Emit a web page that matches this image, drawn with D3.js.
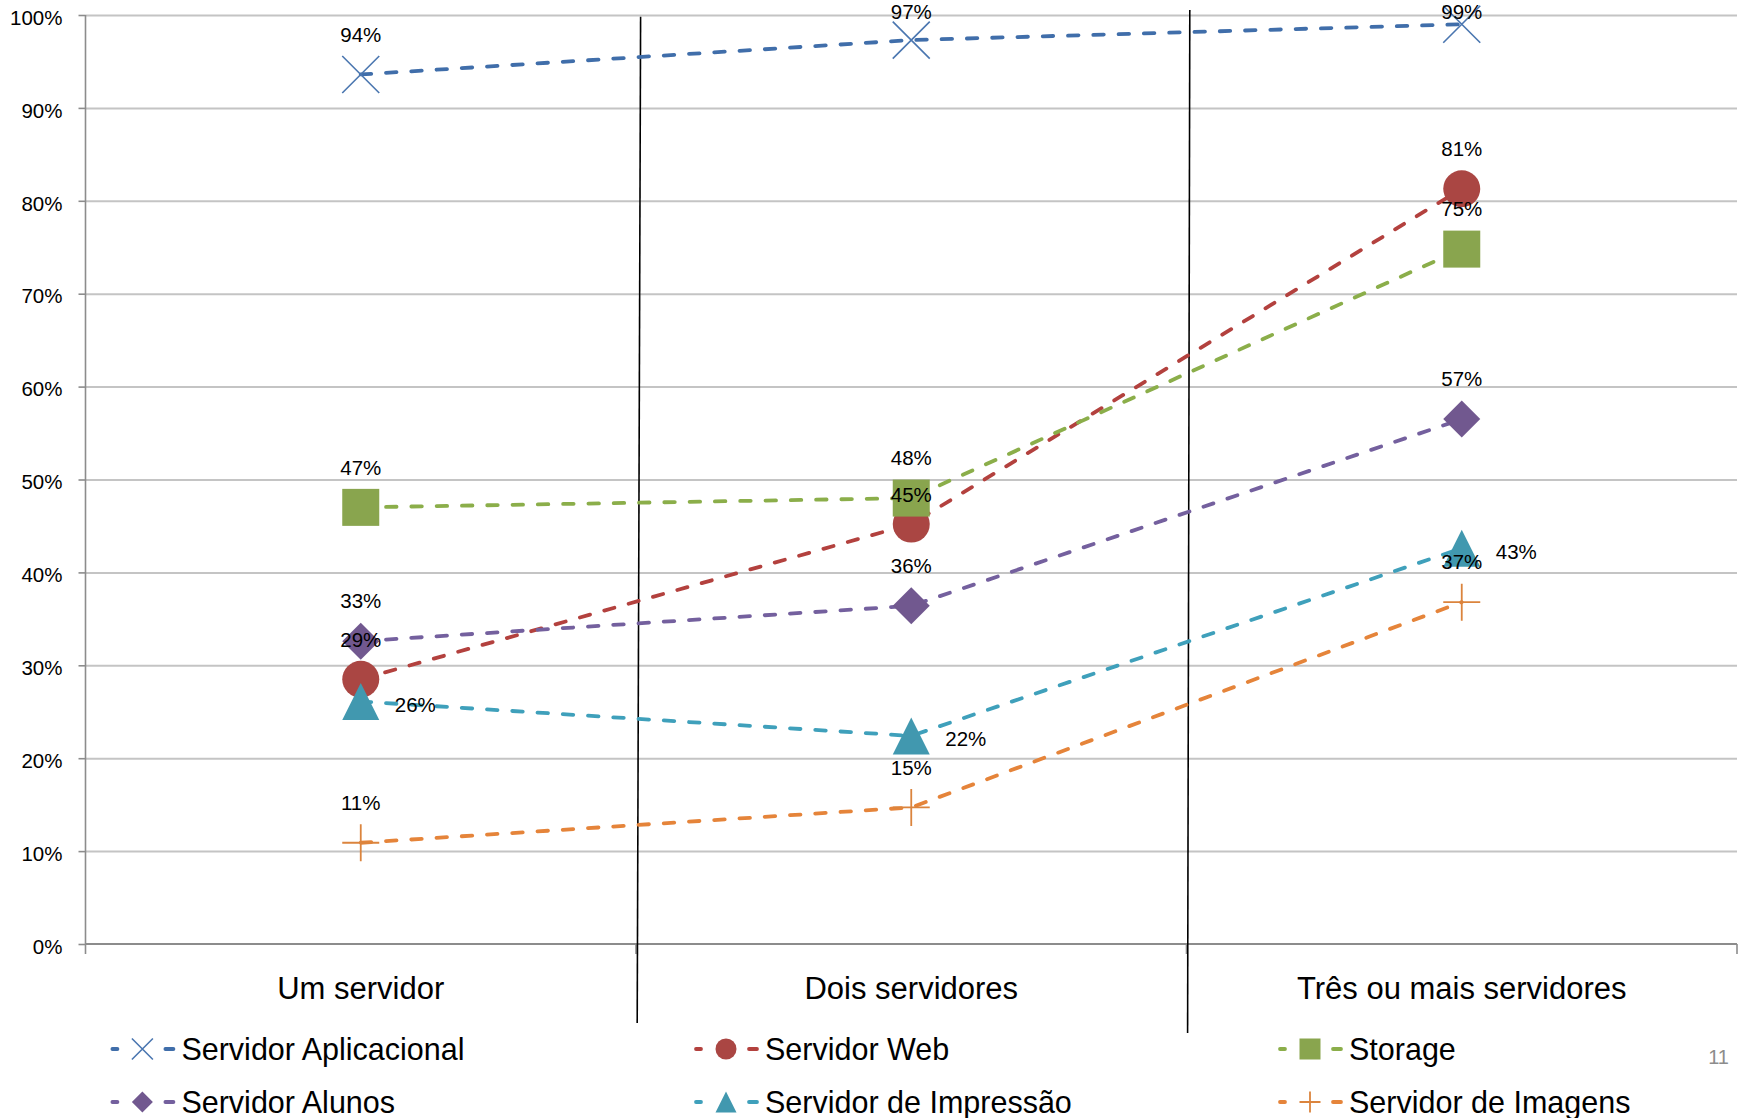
<!DOCTYPE html>
<html><head><meta charset="utf-8">
<script src="https://cdn.jsdelivr.net/npm/d3@7"></script>
<style>
body{margin:0;background:#fff}
svg{display:block}
text{font-family:"Liberation Sans",Arial,sans-serif;fill:#000}
</style>
</head><body><svg id="c" width="1740" height="1118"></svg>
<script>
// ---- data ----
const categories = ["Um servidor", "Dois servidores", "Três ou mais servidores"];
const seriesNames = ["Servidor Aplicacional", "Servidor Web", "Storage", "Servidor Alunos", "Servidor de Impressão", "Servidor de Imagens"];
const servidorAplicacional = [93.6, 97.3, 99.0];
const servidorWeb = [28.5, 45.2, 81.3];
const storage = [47.0, 48.0, 74.8];
const servidorAlunos = [32.6, 36.4, 56.5];
const servidorImpressao = [26.1, 22.4, 42.6];
const servidorImagens = [10.9, 14.7, 36.8];
const yTicks = [0, 10, 20, 30, 40, 50, 60, 70, 80, 90, 100];
const pageNumber = "11";

// ---- styling ----
const seriesValues = [servidorAplicacional, servidorWeb, storage, servidorAlunos, servidorImpressao, servidorImagens];
const markerTypes = ["x", "circle", "square", "diamond", "triangle", "plus"];
const lineColors = ["#406EAA", "#B3413E", "#8BAE4A", "#74609E", "#3FA0BB", "#E5843A"];
const markerColors = ["#4A76B0", "#AA4643", "#89A54E", "#71588F", "#4198AF", "#DB843D"];
const labelRight = [false, false, false, false, true, false];
const labelNudge = {"1-1": 11}; // manual label shift seen in the original (series-category)

const svg = d3.select("#c");
const pLeft = 85.5, pRight = 1737, pTop = 15, pBottom = 944;

const x = d3.scaleBand().domain(categories).range([pLeft, pRight]).padding(0);
const cx = c => x(c) + x.bandwidth() / 2;
const y = d3.scaleLinear().domain([0, 100]).range([pBottom, pTop]);

// gridlines
svg.append("g").attr("transform", `translate(${pLeft},0)`)
  .call(d3.axisLeft(y).tickValues(yTicks.filter(d => d > 0)).tickSize(-(pRight - pLeft)).tickFormat(""))
  .call(g => g.select(".domain").remove())
  .call(g => g.selectAll("line").attr("stroke", "#c4c4c4").attr("stroke-width", 2));

// y axis
svg.append("g").attr("transform", `translate(${pLeft},0)`)
  .call(d3.axisLeft(y).tickValues(yTicks).tickSize(7).tickPadding(16).tickFormat(d => d + "%"))
  .call(g => g.select(".domain").attr("stroke", "#8c8c8c").attr("stroke-width", 1.6).attr("d", `M0,${pTop}V${pBottom}`))
  .call(g => g.selectAll("line").attr("stroke", "#8c8c8c").attr("stroke-width", 1.6))
  .call(g => g.selectAll("text").attr("font-size", 20.5).attr("dy", "0.45em")
    .style("font-family", '"Liberation Sans",Arial,sans-serif').attr("fill", "#000"));

// x axis
const bounds = categories.map(c => x(c)).concat([pRight]);
const xa = svg.append("g");
xa.append("line").attr("x1", pLeft).attr("x2", pRight).attr("y1", pBottom).attr("y2", pBottom)
  .attr("stroke", "#8c8c8c").attr("stroke-width", 1.8);
xa.selectAll(".tk").data(bounds).join("line")
  .attr("x1", d => d).attr("x2", d => d).attr("y1", pBottom).attr("y2", pBottom + 10)
  .attr("stroke", "#8c8c8c").attr("stroke-width", 1.6);
xa.selectAll(".cl").data(categories).join("text")
  .attr("x", d => cx(d)).attr("y", 999).attr("text-anchor", "middle")
  .attr("font-size", 31).text(d => d);

// separator lines (hand-drawn on the original)
const sep = [
  {b: x(categories[1]), dxTop: 4.6, dxBot: 1.2, yTop: 16.7, yBot: 1023},
  {b: x(categories[2]), dxTop: 3.3, dxBot: 1.1, yTop: 10, yBot: 1033}
];
svg.selectAll(".sep").data(sep).join("line")
  .attr("x1", d => d.b + d.dxTop).attr("y1", d => d.yTop)
  .attr("x2", d => d.b + d.dxBot).attr("y2", d => d.yBot)
  .attr("stroke", "#000").attr("stroke-width", 1.6);

function marker(g, type, s, color) {
  const h = s / 2;
  if (type === "x") {
    g.append("path").attr("d", `M${-h},${-h}L${h},${h}M${-h},${h}L${h},${-h}`)
      .attr("stroke", color).attr("stroke-width", 1.6).attr("fill", "none");
  } else if (type === "plus") {
    g.append("path").attr("d", `M${-h},0H${h}M0,${-h}V${h}`)
      .attr("stroke", color).attr("stroke-width", 1.8).attr("fill", "none");
  } else if (type === "circle") {
    g.append("circle").attr("r", h).attr("fill", color);
  } else if (type === "square") {
    g.append("rect").attr("x", -h).attr("y", -h).attr("width", s).attr("height", s).attr("fill", color);
  } else if (type === "diamond") {
    g.append("path").attr("d", `M0,${-h}L${h},0L0,${h}L${-h},0Z`).attr("fill", color);
  } else if (type === "triangle") {
    g.append("path").attr("d", `M0,${-h}L${h},${h}L${-h},${h}Z`).attr("fill", color);
  }
}

const line = d3.line().x(d => cx(d.c)).y(d => y(d.v));

seriesValues.forEach((vals, i) => {
  const pts = vals.map((v, j) => ({c: categories[j], v}));
  const g = svg.append("g");
  g.append("path").datum(pts).attr("d", line).attr("fill", "none")
    .attr("stroke", lineColors[i]).attr("stroke-width", 3.8)
    .attr("stroke-linecap", "round").attr("stroke-dasharray", "10.5,14.8");
  pts.forEach(p => {
    const mg = g.append("g").attr("transform", `translate(${cx(p.c)},${y(p.v)})`);
    marker(mg, markerTypes[i], 37, markerColors[i]);
  });
});

// data labels
seriesValues.forEach((vals, i) => {
  vals.forEach((v, j) => {
    const px = cx(categories[j]), py = y(v);
    const t = svg.append("text").attr("font-size", 20.5).text(Math.round(v) + "%");
    if (labelRight[i]) {
      t.attr("x", px + 34).attr("y", py + 3 + 7.3).attr("text-anchor", "start");
    } else {
      const c = Math.max(py - 40 + (labelNudge[i + "-" + j] || 0), 12);
      t.attr("x", px).attr("y", c + 7.3).attr("text-anchor", "middle");
    }
  });
});

// legend
const legCols = [142.4, 726, 1310];
const legRows = [1049, 1102];
seriesNames.forEach((name, i) => {
  const col = i % 3, row = Math.floor(i / 3);
  const g = svg.append("g").attr("transform", `translate(${legCols[col]},${legRows[row]})`);
  g.append("line").attr("x1", -30).attr("x2", -25).attr("y1", 0).attr("y2", 0)
    .attr("stroke", lineColors[i]).attr("stroke-width", 3.8).attr("stroke-linecap", "round");
  g.append("line").attr("x1", 23).attr("x2", 31).attr("y1", 0).attr("y2", 0)
    .attr("stroke", lineColors[i]).attr("stroke-width", 3.8).attr("stroke-linecap", "round");
  marker(g, markerTypes[i], 21, markerColors[i]);
  g.append("text").attr("x", 39).attr("y", 11).attr("font-size", 30.5).text(name);
});

svg.append("text").attr("x", 1729).attr("y", 1064).attr("text-anchor", "end")
  .attr("font-size", 20).style("fill", "#8c8c8c").text(pageNumber);
</script>
</body></html>
